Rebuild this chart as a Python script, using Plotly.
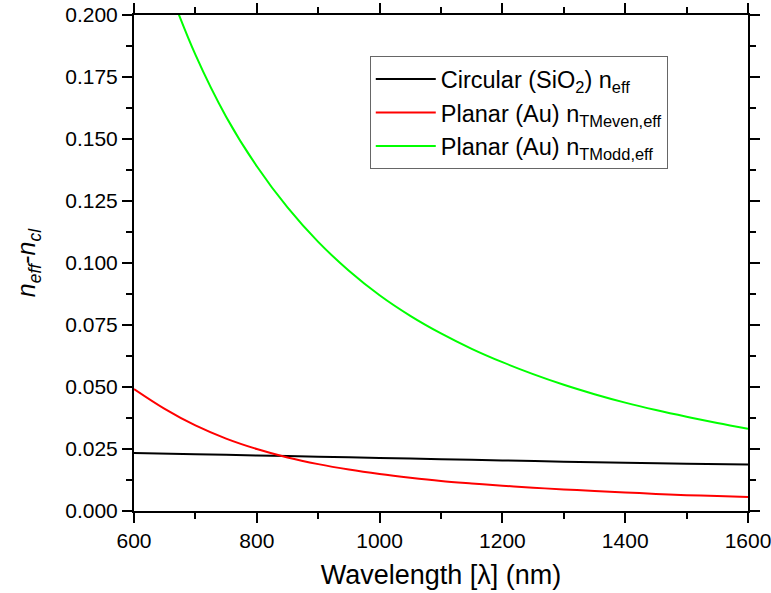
import plotly.graph_objects as go

# Wavelength grids (nm) and series values
wl_black = [600, 700, 800, 900, 1000, 1100, 1200, 1300, 1400, 1500, 1600]
circ_neff = [0.0234, 0.0229, 0.0224, 0.0219, 0.0214, 0.0209, 0.0204, 0.0199, 0.0195, 0.0191, 0.0188]

wl_red = [600, 650, 700, 750, 800, 850, 900, 950, 1000, 1050, 1100, 1150, 1200,
          1250, 1300, 1350, 1400, 1450, 1500, 1550, 1600]
tm_even = [0.0492, 0.0412, 0.0345, 0.0292, 0.0250, 0.0216, 0.0189, 0.0167, 0.0149,
           0.0134, 0.0121, 0.0111, 0.0102, 0.0094, 0.0087, 0.0081, 0.0075, 0.0069,
           0.0064, 0.0060, 0.0056]

wl_green = [650, 700, 750, 800, 850, 900, 950, 1000, 1050, 1100, 1150, 1200,
            1250, 1300, 1350, 1400, 1450, 1500, 1550, 1600]
tm_odd = [0.215, 0.184, 0.159, 0.139, 0.1224, 0.1085, 0.0969, 0.0870, 0.0787, 0.0716,
          0.0654, 0.0600, 0.0552, 0.0509, 0.0471, 0.0437, 0.0407, 0.0380, 0.0355, 0.0332]

y_ticks = [0.000, 0.025, 0.050, 0.075, 0.100, 0.125, 0.150, 0.175, 0.200]
x_ticks = [600, 800, 1000, 1200, 1400, 1600]

FONT = "Liberation Sans, Arial, sans-serif"

fig = go.Figure()
fig.add_trace(go.Scatter(x=wl_black, y=circ_neff, mode="lines",
                         line=dict(color="black", width=2, shape="spline"),
                         name="Circular (SiO<sub>2</sub>) n<sub>eff</sub>"))
fig.add_trace(go.Scatter(x=wl_red, y=tm_even, mode="lines",
                         line=dict(color="#ff0000", width=2, shape="spline"),
                         name="Planar (Au) n<sub>TMeven,eff</sub>"))
fig.add_trace(go.Scatter(x=wl_green, y=tm_odd, mode="lines",
                         line=dict(color="#00ff00", width=2, shape="spline"),
                         name="Planar (Au) n<sub>TModd,eff</sub>"))

axis_common = dict(
    showline=True, linecolor="black", linewidth=2, mirror="ticks",
    ticks="outside", ticklen=10, tickwidth=2, tickcolor="black",
    showgrid=False, zeroline=False, automargin=False,
    ticklabeloverflow="allow",
    tickfont=dict(family=FONT, size=21, color="black"),
)

fig.update_xaxes(
    range=[600, 1600], tickvals=x_ticks,
    minor=dict(dtick=100, ticks="outside", ticklen=6, tickwidth=2, tickcolor="black"),
    title=dict(text="Wavelength [λ] (nm)", font=dict(family=FONT, size=27, color="black"), standoff=14),
    **axis_common,
)
fig.update_yaxes(
    range=[0, 0.2], tickvals=y_ticks, tickformat=".3f",
    minor=dict(dtick=0.0125, ticks="outside", ticklen=6, tickwidth=2, tickcolor="black"),
    title=dict(text="<i>n</i><sub><i>eff</i></sub>-<i>n</i><sub><i>cl</i></sub>",
               font=dict(family=FONT, size=25, color="black"), standoff=22),
    **axis_common,
)

fig.update_layout(
    width=771, height=593,
    margin=dict(l=134, r=23, t=15, b=82),
    paper_bgcolor="white", plot_bgcolor="white",
    showlegend=True,
    legend=dict(x=0.384, y=0.917, xanchor="left", yanchor="top",
                bordercolor="#666666", borderwidth=1, bgcolor="white",
                font=dict(family=FONT, size=23.5, color="black"),
                tracegroupgap=2, itemwidth=60),
)

fig.write_html("out.html")
